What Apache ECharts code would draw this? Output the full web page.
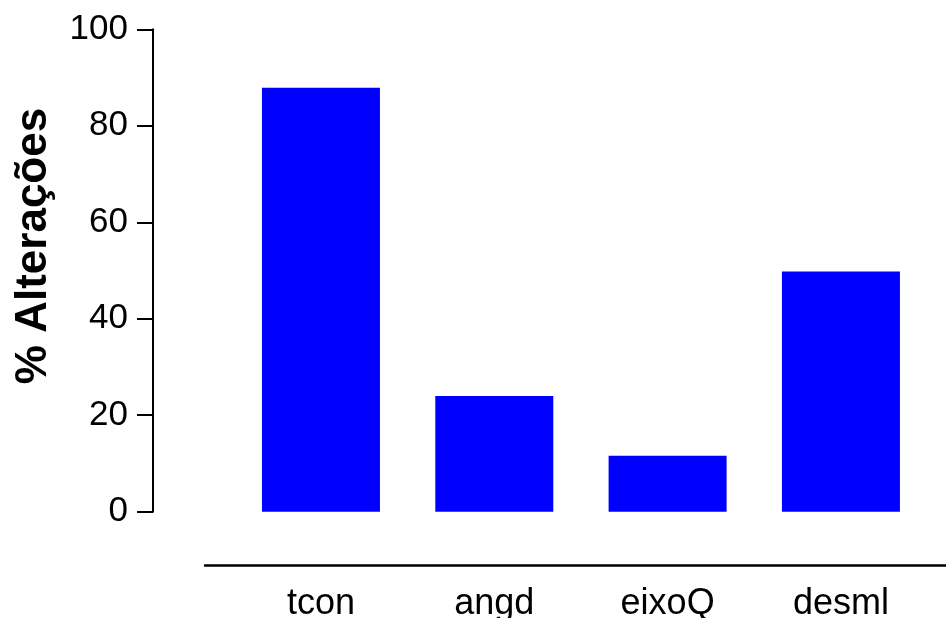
<!DOCTYPE html>
<html>
<head>
<meta charset="utf-8">
<script src="https://cdn.jsdelivr.net/npm/echarts@6/dist/echarts.min.js"></script>
<style>
  html, body { margin: 0; padding: 0; background: #fff; }
  #chart { width: 946px; height: 618px; }
</style>
</head>
<body>
<div id="chart"></div>
<script>
// Percentage of alterations per measurement
const categories = ['tcon', 'angd', 'eixoQ', 'desml'];
const alteracoes = [87.9, 24.0, 11.6, 49.8];
const yTicks = { min: 0, max: 100, interval: 20 };
const yTitle = '% Alterações';

const FONT = '"Liberation Sans", Arial, Helvetica, sans-serif';

const chart = echarts.init(document.getElementById('chart'), null, { renderer: 'canvas' });

chart.setOption({
  backgroundColor: '#ffffff',
  animation: false,
  grid: [
    // plotting region for the bars
    { left: 234.3, right: 18.4, top: 29.3, bottom: 106.3, outerBoundsMode: 'none', containLabel: false },
    // wide strip carrying the separate baseline under the bars
    { left: 205, right: -10, top: 0, bottom: 52.5, outerBoundsMode: 'none', containLabel: false }
  ],
  xAxis: [
    {
      type: 'category',
      gridIndex: 0,
      data: categories,
      axisLine: { show: false },
      axisTick: { show: false },
      axisLabel: {
        margin: 74,
        color: '#000',
        fontFamily: FONT,
        fontSize: 36
      }
    },
    {
      type: 'value',
      gridIndex: 1,
      min: 0, max: 1,
      axisLine: { show: true, lineStyle: { color: '#000', width: 2.5 } },
      axisTick: { show: false },
      axisLabel: { show: false },
      splitLine: { show: false }
    }
  ],
  yAxis: [
    {
      type: 'value',
      gridIndex: 0,
      min: yTicks.min,
      max: yTicks.max,
      interval: yTicks.interval,
      offset: 81.3,
      axisLine: { show: true, lineStyle: { color: '#000', width: 2 } },
      axisTick: { show: true, inside: false, length: 16, lineStyle: { color: '#000', width: 2 } },
      axisLabel: {
        margin: 25,
        color: '#000',
        fontFamily: FONT,
        fontSize: 35
      },
      splitLine: { show: false }
    },
    {
      type: 'value',
      gridIndex: 1,
      show: false
    }
  ],
  series: [
    {
      type: 'bar',
      xAxisIndex: 0,
      yAxisIndex: 0,
      data: alteracoes,
      barWidth: 118,
      itemStyle: { color: '#0000ff' },
      silent: true
    }
  ],
  graphic: [
    {
      type: 'text',
      x: 34,
      y: 246,
      rotation: Math.PI / 2,
      style: {
        text: yTitle,
        fill: '#000',
        font: 'bold 44px ' + FONT,
        align: 'center',
        verticalAlign: 'middle'
      }
    }
  ]
});
</script>
</body>
</html>
